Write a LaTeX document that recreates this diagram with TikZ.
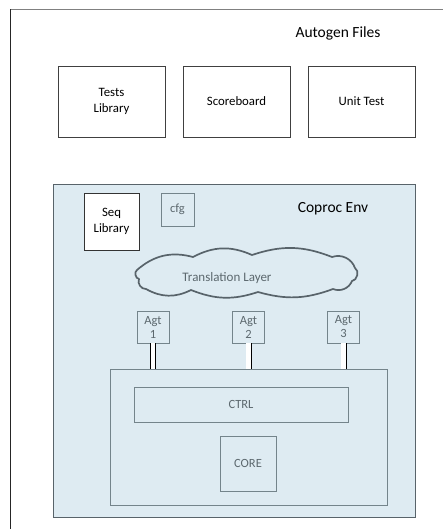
\documentclass[tikz,border=0pt]{standalone}
\usepackage{fontspec}
\setmainfont{Carlito}
\definecolor{envfill}{HTML}{DEEBF2}
\definecolor{envedge}{HTML}{58636A}
\definecolor{partedge}{HTML}{74848B}
\definecolor{parttext}{HTML}{5C686E}
\tikzset{
  filebox/.style={draw=black!75, line width=0.8pt, fill=white, minimum width=107pt,
    minimum height=71pt, inner sep=0pt, align=center, font=\fontsize{12.8}{16}\selectfont},
  part/.style={draw=partedge, line width=0.8pt, inner sep=0pt, align=center,
    text=parttext, font=\fontsize{12.5}{15}\selectfont},
  agent/.style={part, minimum width=32pt, minimum height=32pt, font=\fontsize{12.5}{14}\selectfont},
  link/.style={draw=black, line width=0.6pt, double=white, double distance=4.8pt},
  cloudline/.style={draw=envedge, line width=1.7pt, fill=envfill, line join=round},
}
\begin{document}
\begin{tikzpicture}[x=1pt,y=-1pt]
\useasboundingbox (0,0) rectangle (442,529);
% outer frame, running off the page to the right and bottom
\draw[gray, line width=0.9pt] (10,9.5) -- (460,9.5);
\draw[black!85, line width=0.9pt] (10.5,9.5) -- (10.5,540);
\node[font=\fontsize{15.5}{18}\selectfont] (autogen) at (338,33) {Autogen Files};

% generated files
\node[filebox] (tests) at (111.5,101.5) {Tests\\Library};
\node[filebox] (score) at (236.5,101.5) {Scoreboard};
\node[filebox] (unit) at (361.5,101.5) {Unit Test};

% coprocessor environment, with a slight drop shadow
\fill[envedge!85] (54.5,186.5) rectangle (416,518);
\node[draw=envedge, line width=1pt, fill=envfill, minimum width=362pt, minimum height=332pt,
  inner sep=0pt] (env) at (234,351) {};
\node[font=\fontsize{15.5}{18}\selectfont] (envlabel) at (333,209) {Coproc Env};
\node[filebox, draw=black!80, minimum width=55pt, minimum height=57pt] (seq) at (111.5,221.5) {Seq\\Library};
\node[part, minimum width=33pt, minimum height=33pt] (cfg) at (177.5,209.5) {cfg};

% translation layer cloud, lobe by lobe
\path[cloudline] (137,270)
  to[bend left=28] (193,257)
  to[bend left=26] (252,255)
  to[bend left=20] (332,257)
  to[bend left=45] (355,268)
  to[bend left=75] (352,281)
  to[bend left=45] (333,289)
  to[bend left=18] (258,292)
  to[bend left=20] (191,290)
  to[bend left=28] (146,289)
  to[bend left=60] (139,279)
  to[bend left=70] cycle;
\node[text=parttext, font=\fontsize{13}{15}\selectfont] (xlate) at (227,278) {Translation Layer};

% agents and the block they drive
\node[agent] (a1) at (153,327) {Agt\\1};
\node[agent] (a2) at (248.5,327) {Agt\\2};
\node[agent] (a3) at (343.5,327) {Agt\\3};

\node[part, minimum width=277pt, minimum height=136pt] (dut) at (248.5,437) {};
\node[part, minimum width=214pt, minimum height=35pt] (ctrl) at (241,404.5) {CTRL};
\node[part, minimum width=56pt, minimum height=55pt] (core) at (248,463.5) {CORE};

\foreach \a in {a1,a2,a3}
  \draw[link] (\a.south) -- (\a.south |- dut.north);
\end{tikzpicture}
\end{document}
